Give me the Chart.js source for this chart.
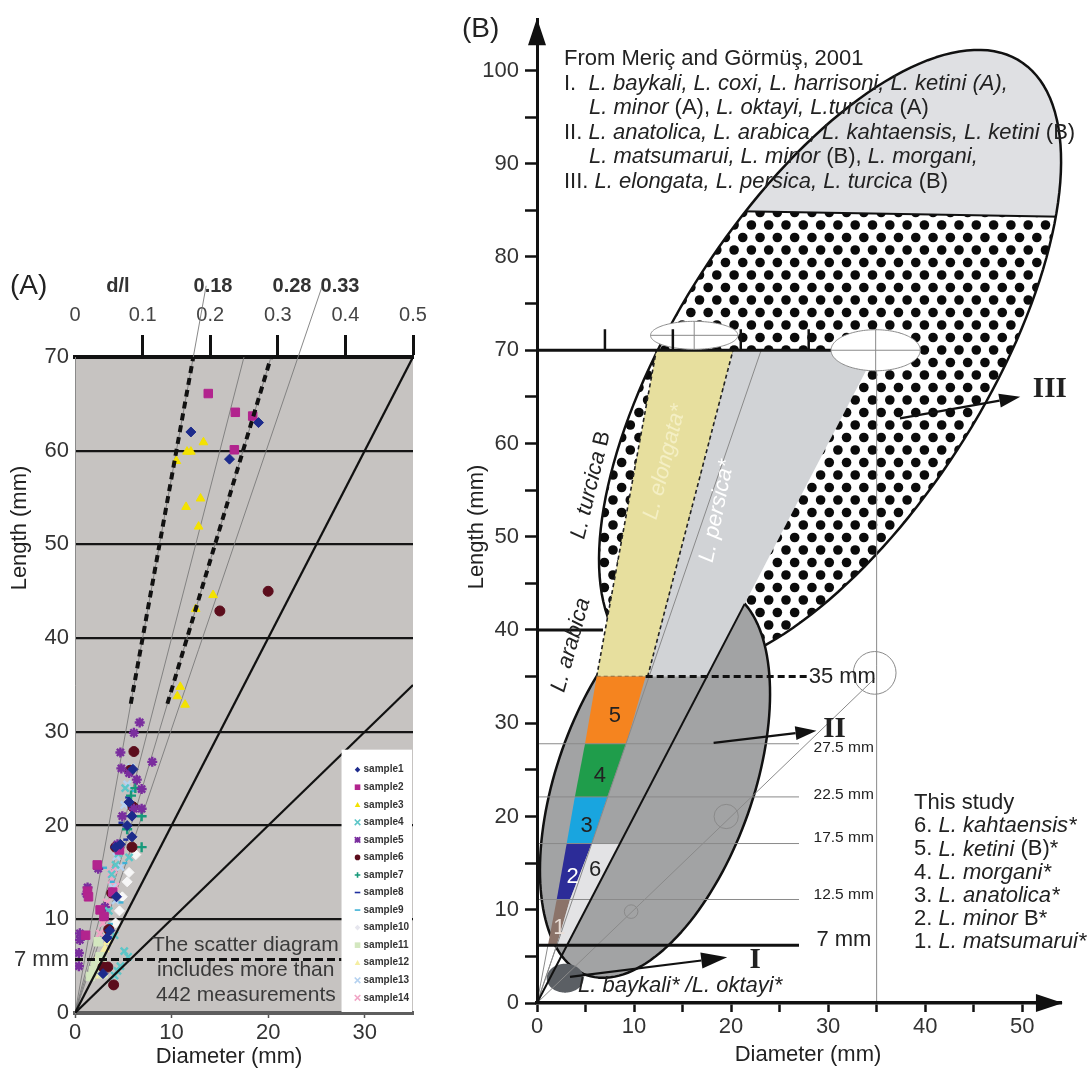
<!DOCTYPE html>
<html>
<head>
<meta charset="utf-8">
<script src="https://cdn.jsdelivr.net/npm/chart.js"></script>
<style>
  html, body { margin: 0; padding: 0; background: #fff; }
  #wrapA { position: absolute; left: 0; top: 0; width: 440px; height: 1068px; }
  #wrapB { position: absolute; left: 440px; top: 0; width: 650px; height: 1068px; }
</style>
</head>
<body>
<div id="wrapA"><canvas id="chartA"></canvas></div>
<div id="wrapB"><canvas id="chartB"></canvas></div>
<script>
const FONT = '"Liberation Sans", Arial, Helvetica, sans-serif';
const SERIF = '"Liberation Serif", "Times New Roman", serif';

// ---------- panel A : measurements [diameter, length] ----------
const sampleNames = ['sample1', 'sample2', 'sample3', 'sample4', 'sample5', 'sample6', 'sample7',
                     'sample8', 'sample9', 'sample10', 'sample11', 'sample12', 'sample13', 'sample14'];
const sample1 = [[12.0, 62.0], [19.0, 63.0], [16.0, 59.1], [5.9, 21.0], [5.9, 18.8], [5.4, 20.0], [4.2, 17.7],
                 [4.7, 18.0], [4.3, 12.4], [3.3, 8.0], [2.9, 4.2], [5.6, 22.5], [6.0, 26.0], [3.6, 8.8]];
const sample2 = [[13.8, 66.1], [16.6, 64.1], [18.4, 63.7], [16.5, 60.1], [2.6, 11.0], [3.0, 10.3], [1.3, 13.0],
                 [1.4, 12.4], [2.3, 15.8], [1.1, 8.3], [4.6, 17.4], [3.9, 12.9]];
const sample3 = [[13.3, 60.9], [11.6, 59.9], [12.0, 59.9], [10.5, 58.9], [13.0, 54.9], [11.5, 54.0], [12.8, 51.9],
                 [14.3, 44.6], [12.5, 43.1], [10.9, 34.8], [10.6, 33.8], [11.4, 32.9]];
const sample4 = [[5.2, 24.0], [4.5, 17.0], [4.2, 15.8], [3.5, 10.9], [4.1, 8.3], [5.1, 6.6], [4.7, 5.0],
                 [4.4, 4.5], [4.1, 4.0], [5.5, 6.0], [3.8, 14.8], [5.6, 16.6]];
const sample5 = [[6.7, 31.0], [6.1, 29.9], [4.7, 27.8], [8.0, 26.8], [4.8, 26.1], [6.4, 24.9], [6.9, 23.9],
                 [6.9, 21.8], [6.1, 21.8], [4.9, 21.0], [2.4, 15.4], [1.3, 13.4], [1.2, 12.7], [0.5, 8.5],
                 [0.5, 7.8], [0.4, 6.4], [0.4, 5.0], [3.1, 11.3], [5.6, 25.6], [4.4, 18.0]];
const sample6 = [[15.0, 42.9], [20.0, 45.0], [6.1, 27.9], [5.7, 25.9], [5.9, 17.7], [4.2, 17.7], [3.8, 12.8],
                 [3.5, 8.9], [2.9, 4.9], [4.0, 3.0], [3.4, 4.9], [6.0, 22.0]];
const sample7 = [[6.25, 24.0], [6.9, 21.0], [6.9, 17.7], [5.4, 19.6], [5.8, 23.2]];
const sample8 = [[5.2, 23.0], [5.0, 18.5], [3.6, 12.8], [3.4, 8.1], [4.5, 20.3], [3.0, 10.1]];
const sample9 = [[2.8, 15.5], [4.5, 21.0], [5.8, 23.7], [4.5, 11.8], [2.8, 10.3], [3.6, 14.0], [4.9, 16.0], [3.4, 9.5]];
const sample10 = [[5.4, 14.0], [4.9, 12.4], [6.3, 16.9], [4.6, 10.9], [5.6, 15.0], [4.2, 9.6]];
const sample11 = [[2.1, 5.3], [1.6, 3.9], [2.6, 6.0], [2.9, 4.2], [2.4, 7.6], [1.9, 4.5], [2.8, 5.5]];
const sample12 = [[2.3, 5.8], [3.1, 6.8], [1.9, 4.6], [3.4, 7.6], [2.6, 4.0]];
const sample13 = [[5.4, 24.4], [4.3, 16.7], [4.7, 15.6], [5.8, 26.2], [5.1, 22.2], [3.9, 13.4], [4.2, 12.0]];
const sample14 = [[3.8, 14.2], [4.2, 13.5], [3.7, 14.9], [2.6, 8.5], [4.8, 17.7], [3.3, 11.8], [4.0, 15.3], [2.9, 9.6]];
const samples = [sample1, sample2, sample3, sample4, sample5, sample6, sample7,
                 sample8, sample9, sample10, sample11, sample12, sample13, sample14];

const sampleColors = ['#1d2b8c', '#b2248e', '#f3e200', '#5cc6c8', '#7a2e9e', '#5c0d1c', '#16997a',
                      '#1f2f9f', '#3fb2d6', '#f7f7f7', '#d3e7bf', '#f5eea2', '#b5d2f0', '#f1a6c6'];
const sampleStyles = ['rectRot', 'rect', 'triangle', 'crossRot', 'star', 'circle', 'cross',
                      'dash', 'dash', 'rectRot', 'rect', 'triangle', 'crossRot', 'crossRot'];

const diameterTicksA = [0, 10, 20, 30];
const lengthTicksA = [0, 5.7, 10, 20, 30, 40, 50, 60, 70];
const lengthLabelsA = ['0', '7 mm', '10', '20', '30', '40', '50', '60', '70'];
const ratioTicksA = [0, 0.1, 0.2, 0.3, 0.4, 0.5];
const solidRatiosA = [0.5, 1.0];
const dashedRatiosA = [0.175, 0.29];
const thinRatiosA = [0.175, 0.25, 0.29, 0.33];
const thinTopsA = [77.6, 70, 70, 77.6];
const ratioLabelsA = ['d/l', '0.18', '0.28', '0.33'];
const cutLengthA = 5.7;

// ---------- panel B ----------
const diameterTicksB = [0, 5, 10, 15, 20, 25, 30, 35, 40, 45, 50];
const lengthTicksB = [0, 5, 10, 15, 20, 25, 30, 35, 40, 45, 50, 55, 60, 65, 70, 75, 80, 85, 90, 95, 100];
const bandLevelsB = [6.2, 11.1, 17.1, 22.1, 27.8, 35.0];
const bandLeftB = [1.13, 2.03, 3.06, 3.9, 4.95, 6.15];
const bandRightB = [2.03, 3.4, 5.64, 7.25, 9.2, 11.2];
const bandColorsB = ['#8b7369', '#2c2c98', '#19a5df', '#1f9d4b', '#f5841f'];
const bandNamesB = ['1', '2', '3', '4', '5'];
const bandTextColorsB = ['#eadfd8', '#ffffff', '#222222', '#222222', '#222222'];
const levelLabelsB = ['7 mm', '12.5 mm', '17.5 mm', '22.5 mm', '27.5 mm', '35 mm'];
const band6B = [[5.64, 17.1], [8.55, 17.1], [3.1, 6.2], [2.03, 6.2], [3.4, 11.1]];
const elongataB = [[6.15, 35], [11.4, 35], [20.2, 70], [12.3, 70]];
const persicaB = [[11.4, 35], [17.5, 35], [35, 70], [20.2, 70]];
// ellipses: centre, two conjugate semi-axis vectors (mm)
const ellipseIII = [30.2, 68.9, 19.33, 32.26, -13.9, 8.3];
const ellipseII = [12.16, 23.7, 7.0, 20.72, 9.57, -3.43];
const ellipseI = [2.9, 2.66, 1.9, 0, 0, 1.55];
const cutIII = [[15, 85.0], [60, 84.2]];
const whiteEllipsesB = [[16.2, 71.6, 4.5, 0, 0, 1.5], [34.9, 70.0, 4.6, 0, 0, 2.2]];
const ratioTicksB = [0.1, 0.2, 0.3, 0.4];
const longLinesB = [[70, 0, 30.3], [40, 0, 6.8]];
const arrowsB = [[[3.4, 2.8], [19.6, 4.9]], [[18.2, 27.9], [28.8, 29.2]], [[37.4, 62.7], [49.8, 65.0]]];
const groupNamesB = ['I', 'II', 'III'];
const circlesB = [[9.7, 9.8, 0.7], [19.5, 20.0, 1.25], [34.8, 35.4, 2.2]];

// ---------- helpers ----------
function rayA(r, top, from) {
  const hi = Math.min(top, 35 / r);
  const lo = from || 0;
  return [{ x: r * lo, y: lo }, { x: r * hi, y: hi }];
}

function rich(ctx, segs, x, y, size, color) {
  let cx = x;
  ctx.fillStyle = color || '#222';
  segs.forEach(([t, it]) => {
    ctx.font = (it ? 'italic ' : '') + size + 'px ' + FONT;
    ctx.fillText(t, cx, y);
    cx += ctx.measureText(t).width;
  });
  return cx - x;
}

function richWidth(ctx, segs, size) {
  let w = 0;
  segs.forEach(([t, it]) => {
    ctx.font = (it ? 'italic ' : '') + size + 'px ' + FONT;
    w += ctx.measureText(t).width;
  });
  return w;
}

function rotText(ctx, segs, x, y, deg, size, color) {
  ctx.save();
  ctx.translate(x, y);
  ctx.rotate(deg * Math.PI / 180);
  ctx.textBaseline = 'middle';
  ctx.textAlign = 'left';
  const w = richWidth(ctx, segs, size);
  rich(ctx, segs, -w / 2, 0, size, color);
  ctx.restore();
}

function drawMarker(ctx, style, x, y, r, color) {
  ctx.save();
  ctx.fillStyle = color;
  ctx.strokeStyle = color;
  ctx.lineWidth = 1.6;
  ctx.beginPath();
  if (style === 'circle') { ctx.arc(x, y, r, 0, Math.PI * 2); ctx.fill(); }
  else if (style === 'rect') { ctx.fillRect(x - r, y - r, 2 * r, 2 * r); }
  else if (style === 'rectRot') { ctx.moveTo(x, y - r); ctx.lineTo(x + r, y); ctx.lineTo(x, y + r); ctx.lineTo(x - r, y); ctx.closePath(); ctx.fill(); }
  else if (style === 'triangle') { ctx.moveTo(x, y - r); ctx.lineTo(x + r, y + r * 0.8); ctx.lineTo(x - r, y + r * 0.8); ctx.closePath(); ctx.fill(); }
  else {
    if (style === 'cross' || style === 'star') { ctx.moveTo(x - r, y); ctx.lineTo(x + r, y); ctx.moveTo(x, y - r); ctx.lineTo(x, y + r); }
    if (style === 'crossRot' || style === 'star') { ctx.moveTo(x - r, y - r); ctx.lineTo(x + r, y + r); ctx.moveTo(x + r, y - r); ctx.lineTo(x - r, y + r); }
    if (style === 'dash') { ctx.moveTo(x - r, y); ctx.lineTo(x + r, y); }
    ctx.stroke();
  }
  ctx.restore();
}

function ellipsePath(ctx, P, e) {
  const [cx, cy, ax, ay, bx, by] = e;
  ctx.beginPath();
  for (let k = 0; k <= 160; k++) {
    const t = k / 160 * Math.PI * 2, c = Math.cos(t), s = Math.sin(t);
    const [X, Y] = P(cx + c * ax + s * bx, cy + c * ay + s * by);
    if (k) ctx.lineTo(X, Y); else ctx.moveTo(X, Y);
  }
  ctx.closePath();
}

function polyPath(ctx, P, pts) {
  ctx.beginPath();
  pts.forEach(([d, L], i) => {
    const [X, Y] = P(d, L);
    if (i) ctx.lineTo(X, Y); else ctx.moveTo(X, Y);
  });
  ctx.closePath();
}

function segment(ctx, P, a, b) {
  const [x1, y1] = P(a[0], a[1]);
  const [x2, y2] = P(b[0], b[1]);
  ctx.beginPath();
  ctx.moveTo(x1, y1);
  ctx.lineTo(x2, y2);
  ctx.stroke();
}

function arrow(ctx, x1, y1, x2, y2, len, half, lw) {
  const ang = Math.atan2(y2 - y1, x2 - x1);
  const bx = x2 - Math.cos(ang) * len, by = y2 - Math.sin(ang) * len;
  ctx.lineWidth = lw;
  ctx.beginPath();
  ctx.moveTo(x1, y1);
  ctx.lineTo(bx, by);
  ctx.stroke();
  ctx.beginPath();
  ctx.moveTo(x2, y2);
  ctx.lineTo(bx + Math.sin(ang) * half, by - Math.cos(ang) * half);
  ctx.lineTo(bx - Math.sin(ang) * half, by + Math.cos(ang) * half);
  ctx.closePath();
  ctx.fill();
}

Chart.defaults.font.family = FONT;

// ---------- panel A chart ----------
const panelAPlugin = {
  id: 'panelA',
  beforeDraw(chart) {
    const { ctx, chartArea: a } = chart;
    ctx.save();
    ctx.fillStyle = '#c6c3c1';
    ctx.fillRect(a.left, a.top, a.right - a.left, a.bottom - a.top);
    ctx.restore();
  },
  afterDraw(chart) {
    const ctx = chart.ctx;
    const x = chart.scales.x, y = chart.scales.y;
    ctx.save();

    // legend box in the lower right corner
    const left = x.getPixelForValue(27.6), top = y.getPixelForValue(28.1);
    ctx.fillStyle = '#ffffff';
    ctx.fillRect(left, top, chart.chartArea.right - 1 - left, y.getPixelForValue(0) - 1 - top);
    ctx.textBaseline = 'middle';
    ctx.textAlign = 'left';
    sampleNames.forEach((name, i) => {
      const yy = top + 20 + i * 17.55;
      drawMarker(ctx, sampleStyles[i], left + 16, yy, 2.8, sampleColors[i] === '#f7f7f7' ? '#e6e6ee' : sampleColors[i]);
      ctx.fillStyle = '#333';
      ctx.font = 'bold 10px ' + FONT;
      ctx.fillText(name, left + 22, yy);
    });

    // note
    ctx.fillStyle = '#3a3a3a';
    ctx.font = '21px ' + FONT;
    ctx.fillText('The scatter diagram', 152, 945);
    ctx.fillText('includes more than', 157, 970);
    ctx.fillText('442 measurements', 156, 995);

    // panel letter, ratio labels, axis titles
    ctx.fillStyle = '#222';
    ctx.font = '28px ' + FONT;
    ctx.fillText('(A)', 10, 286);
    ctx.textAlign = 'center';
    ctx.font = 'bold 20px ' + FONT;
    ctx.fillStyle = '#333';
    const labelX = [118, 213, 292, 340];
    ratioLabelsA.forEach((t, i) => ctx.fillText(t, labelX[i], 286));
    ctx.font = '22px ' + FONT;
    ctx.fillStyle = '#222';
    ctx.fillText('Diameter (mm)', 229, 1057);
    ctx.translate(20, 528);
    ctx.rotate(-Math.PI / 2);
    ctx.fillText('Length (mm)', 0, 0);
    ctx.restore();
  }
};

const strokeOnly = ['cross', 'crossRot', 'star', 'dash'];
const pointDatasetsA = samples.map((s, i) => ({
  label: sampleNames[i],
  data: s.map(([d, l]) => ({ x: d, y: l })),
  pointStyle: sampleStyles[i],
  backgroundColor: sampleColors[i],
  borderColor: sampleColors[i],
  borderWidth: strokeOnly.includes(sampleStyles[i]) ? 2.4 : 1,
  pointRadius: sampleStyles[i] === 'rect' ? 6 : 5,
  order: 1
}));

const lineDatasetsA = [
  ...solidRatiosA.map(r => ({ data: rayA(r, 70), showLine: true, borderColor: '#111', borderWidth: 2.2, pointRadius: 0, order: 0 })),
  ...dashedRatiosA.map(r => ({ data: rayA(r, 70, 33), showLine: true, borderColor: '#111', borderWidth: 4, borderDash: [7, 5], pointRadius: 0, order: 0 })),
  ...thinRatiosA.map((r, i) => ({ data: rayA(r, thinTopsA[i]), showLine: true, borderColor: '#7a7a7a', borderWidth: 0.9, pointRadius: 0, clip: false, order: 2 })),
  { data: [{ x: 0, y: cutLengthA }, { x: 27.6, y: cutLengthA }], showLine: true, borderColor: '#111', borderWidth: 3, borderDash: [8, 4], pointRadius: 0, order: 0 }
];

new Chart(document.getElementById('chartA'), {
  type: 'scatter',
  data: { datasets: [...lineDatasetsA, ...pointDatasetsA] },
  options: {
    responsive: true,
    maintainAspectRatio: false,
    animation: false,
    events: [],
    layout: { padding: { left: 0, right: 27, top: 0, bottom: 0 } },
    plugins: { legend: { display: false }, tooltip: { enabled: false } },
    scales: {
      x: {
        type: 'linear', position: 'bottom', min: 0, max: 35,
        afterBuildTicks: a => { a.ticks = diameterTicksA.map(v => ({ value: v })); },
        afterFit: s => { s.height = 55; },
        grid: { drawOnChartArea: false, tickLength: 5, tickColor: '#555', tickWidth: 1.5 },
        border: { display: true, color: '#5e5e5e', width: 4 },
        ticks: { color: '#333', font: { size: 22 }, padding: 2, maxRotation: 0, autoSkip: false }
      },
      x2: {
        type: 'linear', position: 'top', min: 0, max: 0.5,
        afterBuildTicks: a => { a.ticks = ratioTicksA.map(v => ({ value: v })); },
        afterFit: s => { s.height = 357; },
        grid: { drawOnChartArea: false, tickLength: 22, tickWidth: 3,
                tickColor: c => (c.tick && c.tick.value === 0) ? 'rgba(0,0,0,0)' : '#111' },
        border: { display: true, color: '#111', width: 4 },
        ticks: { color: '#444', font: { size: 20 }, padding: 8, maxRotation: 0, autoSkip: false,
                 callback: v => String(+Number(v).toFixed(1)) }
      },
      y: {
        type: 'linear', min: 0, max: 70,
        afterBuildTicks: a => { a.ticks = lengthTicksA.map(v => ({ value: v })); },
        afterFit: s => { s.width = 75; },
        grid: { drawTicks: false, lineWidth: 2.2,
                color: c => (c.tick && c.tick.value >= 10 && c.tick.value <= 60) ? '#151515' : 'rgba(0,0,0,0)' },
        border: { display: true, color: '#8a8a8a', width: 1 },
        ticks: { color: '#333', font: { size: 22 }, padding: 6, autoSkip: false,
                 callback: v => lengthLabelsA[lengthTicksA.indexOf(v)] }
      }
    }
  },
  plugins: [panelAPlugin]
});

// ---------- panel B chart ----------
const panelBPlugin = {
  id: 'panelB',
  beforeDatasetsDraw(chart) {
    const ctx = chart.ctx;
    const sx = chart.scales.x, sy = chart.scales.y;
    const P = (d, L) => [sx.getPixelForValue(d), sy.getPixelForValue(L)];
    const W = chart.width, H = chart.height;
    ctx.save();
    ctx.lineJoin = 'round';

    // ellipse III : dotted, light grey cap
    ctx.save();
    ellipsePath(ctx, P, ellipseIII);
    ctx.fillStyle = '#ffffff';
    ctx.fill();
    ctx.clip();
    ctx.fillStyle = '#0b0b0b';
    for (let row = 0, yy = 0; yy < H; row++, yy += 12.5) {
      for (let xx = (row % 2) * 8.65; xx < W; xx += 17.3) {
        ctx.beginPath();
        ctx.arc(xx, yy, 4.8, 0, Math.PI * 2);
        ctx.fill();
      }
    }
    polyPath(ctx, P, [cutIII[0], cutIII[1], [cutIII[1][0], 130], [cutIII[0][0], 130]]);
    ctx.fillStyle = '#dfe0e3';
    ctx.fill();
    ctx.strokeStyle = '#111';
    ctx.lineWidth = 2;
    segment(ctx, P, cutIII[0], cutIII[1]);
    ctx.restore();
    ellipsePath(ctx, P, ellipseIII);
    ctx.strokeStyle = '#111';
    ctx.lineWidth = 2.5;
    ctx.stroke();

    // ellipse II and I
    ellipsePath(ctx, P, ellipseII);
    ctx.fillStyle = '#a2a3a4';
    ctx.fill();
    ctx.stroke();
    ellipsePath(ctx, P, ellipseI);
    ctx.fillStyle = '#5b5f64';
    ctx.fill();

    // Meric & Gormus bands
    polyPath(ctx, P, persicaB);
    ctx.fillStyle = '#d1d3d6';
    ctx.fill();
    polyPath(ctx, P, elongataB);
    ctx.fillStyle = '#e7df9e';
    ctx.fill();
    ctx.strokeStyle = '#222';
    ctx.lineWidth = 1.6;
    ctx.setLineDash([4, 3]);
    segment(ctx, P, elongataB[0], elongataB[3]);
    segment(ctx, P, elongataB[1], elongataB[2]);
    ctx.strokeStyle = '#6d6a55';
    segment(ctx, P, elongataB[0], elongataB[1]);
    ctx.setLineDash([]);

    // this study bands 1-5 and 6
    for (let i = 0; i < 5; i++) {
      polyPath(ctx, P, [[bandLeftB[i], bandLevelsB[i]], [bandRightB[i], bandLevelsB[i]],
                        [bandRightB[i + 1], bandLevelsB[i + 1]], [bandLeftB[i + 1], bandLevelsB[i + 1]]]);
      ctx.fillStyle = bandColorsB[i];
      ctx.fill();
    }
    polyPath(ctx, P, band6B);
    ctx.fillStyle = '#e3e3e5';
    ctx.fill();

    // thin guide lines
    ctx.strokeStyle = '#8a8a8a';
    ctx.lineWidth = 1;
    segment(ctx, P, [0, 0], [0.33 * 70, 70]);
    segment(ctx, P, [0, 0], [bandLeftB[0], bandLevelsB[0]]);
    segment(ctx, P, [0, 0], [bandRightB[0], bandLevelsB[0]]);
    segment(ctx, P, [0, 0], [circlesB[2][0], circlesB[2][0]]);
    segment(ctx, P, [35, 0], [35, 72.3]);
    circlesB.forEach(([d, L, r]) => {
      const [X, Y] = P(d, L);
      ctx.beginPath();
      ctx.arc(X, Y, sx.getPixelForValue(r) - sx.getPixelForValue(0), 0, Math.PI * 2);
      ctx.stroke();
    });
    for (let i = 1; i < 5; i++) segment(ctx, P, [0, bandLevelsB[i]], [27, bandLevelsB[i]]);

    // d/l = 0.5 line
    ctx.strokeStyle = '#111';
    ctx.lineWidth = 2;
    segment(ctx, P, [0, 0], [21.4, 42.8]);

    // 7 mm and 35 mm lines
    ctx.lineWidth = 3;
    segment(ctx, P, [0, bandLevelsB[0]], [27, bandLevelsB[0]]);
    ctx.setLineDash([7, 4]);
    segment(ctx, P, [bandRightB[5], bandLevelsB[5]], [28, bandLevelsB[5]]);
    ctx.setLineDash([]);

    // 70 and 40 mm lines
    ctx.lineWidth = 3;
    longLinesB.forEach(([L, a, b]) => segment(ctx, P, [a, L], [b, L]));

    // white ellipses on the 70 mm line
    whiteEllipsesB.forEach(e => {
      ellipsePath(ctx, P, e);
      ctx.fillStyle = '#ffffff';
      ctx.fill();
      ctx.strokeStyle = '#8a8a8a';
      ctx.lineWidth = 1;
      ctx.stroke();
      segment(ctx, P, [e[0] - e[2], e[1]], [e[0] + e[2], e[1]]);
      segment(ctx, P, [e[0], e[1] - e[5]], [e[0], e[1] + e[5]]);
    });

    // d/l ticks on the 70 mm line
    ctx.strokeStyle = '#111';
    ctx.lineWidth = 2.5;
    ratioTicksB.forEach(r => {
      const [X, Y] = P(r * 70, 70);
      ctx.beginPath();
      ctx.moveTo(X, Y);
      ctx.lineTo(X, Y - 21);
      ctx.stroke();
    });
    ctx.restore();
  },
  afterDraw(chart) {
    const ctx = chart.ctx;
    const sx = chart.scales.x, sy = chart.scales.y;
    const P = (d, L) => [sx.getPixelForValue(d), sy.getPixelForValue(L)];
    ctx.save();

    // axis arrow heads
    ctx.fillStyle = '#111';
    const [ox, oy] = P(0, 0);
    ctx.beginPath();
    ctx.moveTo(ox, sy.getPixelForValue(105.6));
    ctx.lineTo(ox - 9, sy.getPixelForValue(105.6) + 27);
    ctx.lineTo(ox + 9, sy.getPixelForValue(105.6) + 27);
    ctx.closePath();
    ctx.fill();
    const xt = sx.getPixelForValue(54.2);
    ctx.beginPath();
    ctx.moveTo(xt, oy);
    ctx.lineTo(xt - 27, oy - 9);
    ctx.lineTo(xt - 27, oy + 9);
    ctx.closePath();
    ctx.fill();

    // arrows to group labels
    ctx.strokeStyle = '#111';
    arrowsB.forEach(([a, b], i) => {
      const [x1, y1] = P(a[0], a[1]);
      const [x2, y2] = P(b[0], b[1]);
      arrow(ctx, x1, y1, x2, y2, i === 0 ? 26 : 21, i === 0 ? 8 : 7, 2.2);
    });

    // band numbers
    ctx.textAlign = 'center';
    ctx.textBaseline = 'middle';
    ctx.font = '22px ' + FONT;
    for (let i = 0; i < 5; i++) {
      const d = (bandLeftB[i] + bandRightB[i] + bandLeftB[i + 1] + bandRightB[i + 1]) / 4;
      const L = (bandLevelsB[i] + bandLevelsB[i + 1]) / 2 - 0.6;
      const [X, Y] = P(d + 0.15, L);
      ctx.fillStyle = bandTextColorsB[i];
      ctx.fillText(bandNamesB[i], X, Y);
    }
    const [x6, y6] = P(5.98, 14.3);
    ctx.fillStyle = '#222';
    ctx.fillText('6', x6, y6);

    // level labels
    ctx.textAlign = 'left';
    ctx.fillStyle = '#222';
    ctx.font = '22px ' + FONT;
    let [lx, ly] = P(29.0, bandLevelsB[0]);
    ctx.fillText(levelLabelsB[0], lx - 2, ly - 5);
    [lx, ly] = P(28, bandLevelsB[5]);
    ctx.fillText(levelLabelsB[5], lx, ly);
    ctx.font = '15.5px ' + FONT;
    const levelOffsets = [0, -5, -6, -2, 4];
    for (let i = 1; i < 5; i++) {
      [lx, ly] = P(28.5, bandLevelsB[i]);
      ctx.fillText(levelLabelsB[i], lx, ly + levelOffsets[i]);
    }

    // group numerals
    ctx.font = 'bold 29px ' + SERIF;
    const numeralPos = [[21.9, 4.6], [29.5, 29.3], [51.1, 65.8]];
    groupNamesB.forEach((t, i) => {
      const [X, Y] = P(numeralPos[i][0], numeralPos[i][1]);
      ctx.fillText(t, X, Y);
    });

    // page coordinate texts
    ctx.translate(-440, 0);
    ctx.textBaseline = 'middle';
    ctx.textAlign = 'left';
    ctx.fillStyle = '#222';
    ctx.font = '28px ' + FONT;
    ctx.fillText('(B)', 462, 29);

    const headerB = [
      [564, 59, [['From Meriç and Görmüş, 2001', 0]]],
      [564, 84, [['I.  ', 0], ['L. baykali, L. coxi, L. harrisoni, L. ketini (A),', 1]]],
      [589, 108, [['L. minor', 1], [' (A), ', 0], ['L. oktayi, L.turcica', 1], [' (A)', 0]]],
      [564, 133, [['II. ', 0], ['L. anatolica, L. arabica, L. kahtaensis, L. ketini', 1], [' (B)', 0]]],
      [589, 157, [['L. matsumarui, L. minor', 1], [' (B), ', 0], ['L. morgani,', 1]]],
      [564, 182, [['III. ', 0], ['L. elongata, L. persica, L. turcica', 1], [' (B)', 0]]]
    ];
    headerB.forEach(([x, y, segs]) => rich(ctx, segs, x, y, 22, '#222'));

    const studyB = [
      [['This study', 0]],
      [['6. ', 0], ['L. kahtaensis*', 1]],
      [['5. ', 0], ['L. ketini', 1], [' (B)*', 0]],
      [['4. ', 0], ['L. morgani*', 1]],
      [['3. ', 0], ['L. anatolica*', 1]],
      [['2. ', 0], ['L. minor', 1], [' B*', 0]],
      [['1. ', 0], ['L. matsumarui*', 1]]
    ];
    studyB.forEach((segs, i) => rich(ctx, segs, 914, 803 + i * 23.2, 22, '#222'));

    rich(ctx, [['L. baykali* /L. oktayi*', 1]], 578, 986, 22, '#222');

    rotText(ctx, [['L. turcica', 1], [' B', 0]], 591, 485, -76.4, 22, '#222');
    rotText(ctx, [['L. arabica', 1]], 571, 645, -74.5, 22, '#222');
    rotText(ctx, [['L. elongata*', 1]], 665, 462, -75.6, 22, '#f4efc4');
    rotText(ctx, [['L. persica*', 1]], 717, 511, -78.3, 22, '#ffffff');

    ctx.font = '22px ' + FONT;
    ctx.fillStyle = '#222';
    ctx.textAlign = 'center';
    ctx.fillText('Diameter (mm)', 808, 1055);
    ctx.translate(477, 527);
    ctx.rotate(-Math.PI / 2);
    ctx.fillText('Length (mm)', 0, 0);
    ctx.restore();
  }
};

new Chart(document.getElementById('chartB'), {
  type: 'scatter',
  data: { datasets: [] },
  options: {
    responsive: true,
    maintainAspectRatio: false,
    animation: false,
    events: [],
    layout: { padding: { left: 0, right: 29, top: 10, bottom: 0 } },
    plugins: { legend: { display: false }, tooltip: { enabled: false } },
    scales: {
      x: {
        type: 'linear', min: 0, max: 54,
        afterBuildTicks: a => { a.ticks = diameterTicksB.map(v => ({ value: v })); },
        afterFit: s => { s.height = 65; },
        grid: { drawOnChartArea: false, tickLength: 9, tickWidth: 2.5, tickColor: '#111' },
        border: { display: true, color: '#111', width: 3.5, z: 1 },
        ticks: { color: '#333', font: { size: 22 }, padding: 2, maxRotation: 0, autoSkip: false,
                 callback: v => (v % 10 === 0 ? String(v) : '') }
      },
      y: {
        type: 'linear', min: 0, max: 105.5,
        afterBuildTicks: a => { a.ticks = lengthTicksB.map(v => ({ value: v })); },
        afterFit: s => { s.width = 97; },
        grid: { drawOnChartArea: false, tickLength: 12, tickWidth: 2.5, tickColor: '#111' },
        border: { display: true, color: '#111', width: 3, z: 1 },
        ticks: { color: '#333', font: { size: 22 }, padding: 6, autoSkip: false,
                 callback: v => (v % 10 === 0 ? String(v) : '') }
      }
    }
  },
  plugins: [panelBPlugin]
});
</script>
</body>
</html>
